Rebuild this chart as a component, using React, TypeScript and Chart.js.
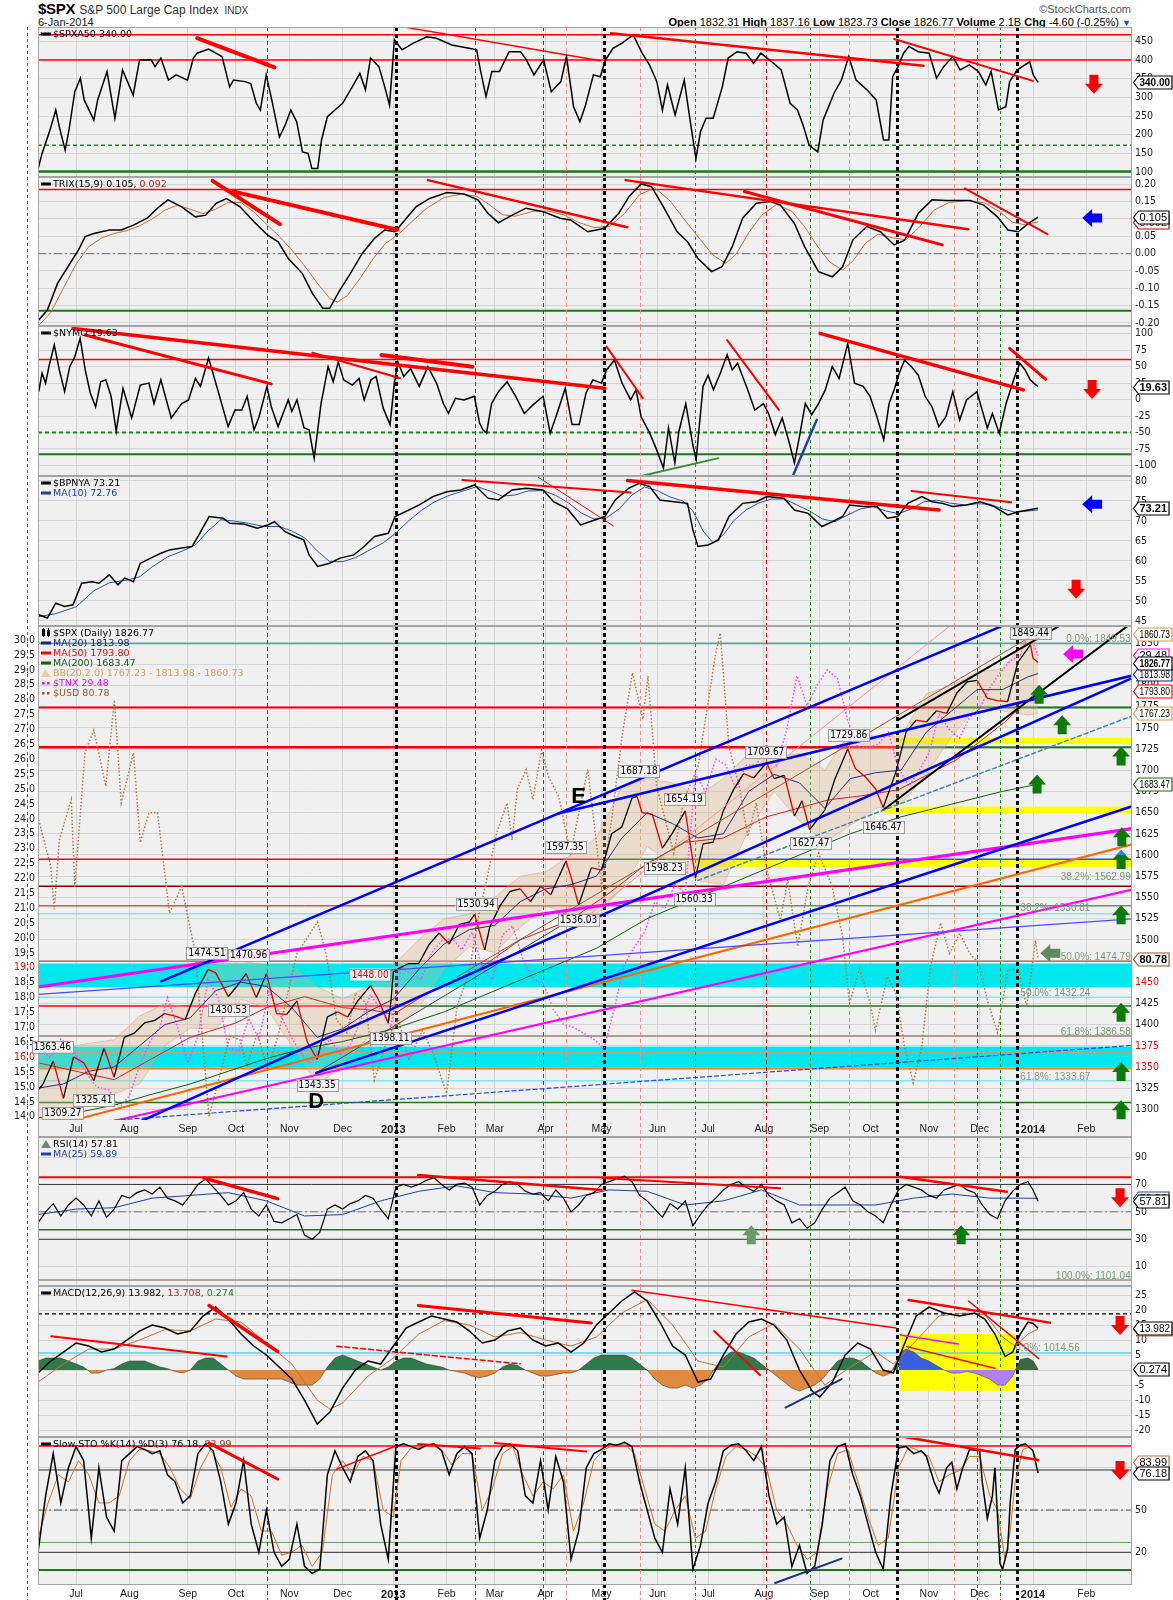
import React, { useEffect, useRef } from 'react';
import { Chart, registerables } from 'chart.js';

Chart.register(...registerables);

const TICK_FONT = '"Liberation Sans Narrow", "DejaVu Sans Condensed", "Liberation Sans", sans-serif';
const LEG_FONT = '"DejaVu Sans", Verdana, sans-serif';
const LAB_FONT = '"Liberation Sans", Arial, sans-serif';
const W = 1173;
const LEFT = 38;
const RIGHT_W = 41;
const X_MIN = -15;
const X_MAX = 416;

// trading-day index of month starts (0 = 2 Jul 2012)
const MONTH_IDX = [0, 21, 44, 63, 84, 105, 125, 146, 165, 185, 207, 229, 249, 271, 293, 313, 336, 356, 377, 398];
const MONTH_LABELS = ['Jul', 'Aug', 'Sep', 'Oct', 'Nov', 'Dec', '2013', 'Feb', 'Mar', 'Apr', 'May', 'Jun', 'Jul', 'Aug', 'Sep', 'Oct', 'Nov', 'Dec', '2014', 'Feb'];

// event lines (trading-day index, kind)
const VLINE_IDX = [-19.3, 75.3, 126, 157.2, 184, 193, 208, 222, 244, 272, 289, 304.6, 323.5, 346, 355, 364, 370.8];
const VLINE_KIND = ['g', 'r', 'k', 'r', 'r', 'p', 'k', 'p', 'g', 'r', 'g', 'p', 'k', 'p', 'r', 'g', 'k'];

// ---------- $SPXA50 ----------
const A50_TICKS = [100, 150, 200, 250, 300, 350, 400, 450];
const A50_LEVELS = [467, 400, 172, 102];
const A50 = [[-14.9,110],[-13.4,150],[-10.3,212],[-8,266],[-6.6,221],[-4.3,159],[-2.8,212],[-0.5,315],[1.7,351],[3.2,293],[7,239],[8.5,293],[12.2,369],[15.3,244],[18.3,373],[22.5,306],[25,400],[29.6,400],[31.1,382],[33.4,405],[36.4,346],[39.4,360],[43.9,346],[46.2,405],[47.7,418],[52.2,429],[57.5,409],[60.5,328],[62,346],[66.6,342],[68.8,337],[71,284],[72.6,266],[74.9,360],[77.1,293],[80.1,194],[82.4,226],[84.6,266],[86.9,235],[89.2,154],[91.4,150],[92.9,110],[95.2,110],[96.7,186],[99,248],[102,266],[105,284],[108.8,328],[111.8,364],[114,320],[116,405],[119.3,382],[121.6,328],[123.5,279],[125.4,454],[128.4,427],[132.9,445],[138.2,462],[142,458],[148,440],[154.8,431],[157.8,427],[159.3,373],[161.5,302],[163.8,369],[166.8,369],[170.6,422],[175.1,422],[177.4,400],[180.4,360],[184.2,400],[187.2,315],[191,342],[193.2,409],[196,275],[198.5,235],[200.7,279],[203.8,360],[206.5,355],[208.6,400],[211.5,431],[215.1,445],[219.5,467],[223,418],[225.9,387],[228.8,342],[231,266],[233,333],[236,253],[239.6,346],[241.7,248],[244.2,136],[246,208],[248.2,244],[251,244],[254.6,328],[256.9,405],[260.4,422],[264,418],[266.9,391],[269.8,418],[274.1,395],[277.8,373],[281.3,284],[284.2,266],[286.4,226],[288.8,172],[292.2,154],[294.3,239],[298.6,311],[301.5,346],[304.4,409],[307.3,346],[311.6,320],[315.2,293],[318.1,186],[320.2,186],[321.7,355],[323.8,382],[326,418],[328.1,436],[331.8,422],[336.1,418],[339,351],[341.8,382],[345.4,409],[348.3,373],[351.9,387],[355.5,369],[358.4,333],[360.5,369],[363.4,266],[366.3,275],[367.8,342],[370.7,373],[375.7,395],[377.1,360],[379,340]];
const A50_TRENDS = [[47.7,458,78.2,380],[128.4,489,206.5,398],[210.8,471.6,333.9,384.7],[322.3,456,377,344]];

// ---------- TRIX ----------
const TRIX_TICKS = [-0.2, -0.15, -0.1, -0.05, 0, 0.05, 0.1, 0.15, 0.2];
const TRIX_LEVELS = [0.185, 0, -0.165];
const TRIX = [[-14.7,-0.192],[-11.3,-0.163],[-7.3,-0.086],[-3.2,-0.038],[0.9,0.010],[3.6,0.049],[7,0.058],[13.1,0.068],[17.8,0.068],[22.6,0.082],[28,0.102],[32.1,0.131],[36.2,0.155],[41.6,0.135],[47,0.106],[51.1,0.111],[55.2,0.145],[59.2,0.159],[64.6,0.135],[70.1,0.092],[75.5,0.053],[79.6,0.034],[83.6,-0.014],[89.1,-0.057],[93.1,-0.115],[97.2,-0.158],[99.9,-0.158],[104,-0.105],[108.1,-0.057],[112.8,0.001],[117.6,0.044],[121.6,0.068],[125.7,0.063],[128.4,0.087],[133.9,0.135],[139.3,0.159],[146.1,0.176],[152.8,0.172],[158.3,0.155],[162.3,0.116],[166.4,0.089],[171.8,0.111],[177.3,0.131],[184,0.121],[190.7,0.102],[194.8,0.097],[201.6,0.063],[208.3,0.073],[213.8,0.116],[217.8,0.164],[222.6,0.201],[226.7,0.193],[231.4,0.135],[236.8,0.063],[240.9,0.034],[245,-0.014],[250.4,-0.052],[254.5,-0.038],[258.5,0.020],[262.6,0.102],[268,0.145],[273.5,0.150],[277.5,0.140],[283,0.087],[287,0.020],[292.5,-0.052],[297.9,-0.067],[302,-0.038],[306,0.039],[311.5,0.078],[316.9,0.063],[322.3,0.025],[326.4,0.039],[331.8,0.116],[337.2,0.155],[342.7,0.153],[352.2,0.153],[357.6,0.140],[363,0.106],[367.1,0.068],[371.2,0.063],[375.2,0.087],[379,0.105]];
const TRIX_SIG = [[-15,-0.21],[-10,-0.17],[-5,-0.1],[0,-0.03],[5,0.02],[10,0.045],[15,0.058],[20,0.066],[25,0.08],[30,0.1],[35,0.125],[40,0.14],[45,0.128],[50,0.115],[55,0.128],[60,0.148],[65,0.147],[70,0.12],[75,0.085],[80,0.05],[85,0.01],[90,-0.035],[95,-0.085],[100,-0.13],[103,-0.14],[107,-0.12],[112,-0.07],[117,-0.015],[122,0.03],[127,0.055],[132,0.09],[138,0.13],[145,0.162],[152,0.172],[158,0.165],[163,0.14],[168,0.112],[173,0.108],[180,0.122],[186,0.123],[192,0.112],[198,0.09],[204,0.075],[210,0.078],[216,0.115],[222,0.17],[228,0.19],[234,0.152],[240,0.095],[246,0.04],[251,-0.005],[256,-0.028],[260,-0.002],[265,0.06],[270,0.11],[276,0.142],[282,0.122],[287,0.078],[292,0.022],[297,-0.025],[302,-0.048],[306,-0.022],[311,0.03],[316,0.056],[322,0.045],[327,0.04],[332,0.075],[338,0.125],[344,0.148],[352,0.153],[358,0.146],[364,0.12],[369,0.09],[374,0.083],[379,0.092]];
const TRIX_TRENDS = [[53.8,0.210,80.3,0.085],[62,0.179,127,0.068],[138.6,0.212,217.2,0.076],[216.5,0.212,351.5,0.070],[263.3,0.179,341.3,0.025],[350.1,0.188,382.7,0.056]];

// ---------- $NYMO ----------
const NYMO_TICKS = [-100, -75, -50, -25, 0, 25, 50, 75, 100];
const NYMO_LEVELS = [61, -50, -83];
const NYMO = [[-14.7,12],[-13.4,40],[-12,25],[-10.7,50],[-8.6,83],[-6.6,45],[-4.5,12],[-2.5,50],[-0.5,65],[1.6,93],[3.6,45],[5.6,10],[7.7,-11],[9.7,27],[11.7,30],[13.8,5],[15.8,-48],[18.5,17],[21.9,-28],[25.3,22],[28.7,25],[30.7,-6],[33.4,30],[37.5,-28],[41.6,-6],[44.3,-0.5],[47,32],[49,20],[52.2,63],[55.8,15],[59.9,-41],[62.6,-16],[65.3,-16],[67.4,5],[70.1,-46],[72.1,-26],[75.2,20],[76.9,-11],[79.6,-41],[83.6,-0.5],[85,-18],[87,-0.5],[89.8,-43],[91.8,-46],[93.8,-89],[96.5,-6],[99.3,50],[101.3,27],[103.3,57],[105.4,30],[108.8,22],[111.5,32],[113.5,-0.5],[116.2,30],[118.2,35],[121,-13],[123.7,-38],[125.4,25],[126.8,57],[129.1,35],[131.8,47],[135.2,20],[138.6,50],[142,25],[144.7,-6],[146.7,-21],[149.5,2],[152.8,-0.5],[156.9,5],[159,-36],[160.3,-46],[161.7,-51],[163.7,-6],[166.4,12],[169.8,27],[173.2,5],[176.6,-21],[180,-8],[184,5],[186.8,-51],[189.5,-21],[192.7,17],[195.4,-38],[198.2,-38],[200.9,10],[203.6,30],[207,25],[209,45],[212.1,60],[215.1,25],[218.5,-0.5],[220.6,15],[222.6,-26],[226,-51],[228.7,-76],[231.4,-104],[233.4,-43],[235.9,-96],[237.5,-48],[240.2,-6],[243,-69],[244.3,-91],[247,20],[249,37],[251.1,15],[253.8,40],[256.5,68],[258.5,45],[260.6,55],[264.6,15],[267.4,-16],[270.8,-6],[272.8,-21],[275.5,-53],[278.2,-28],[281,-66],[283,-96],[285,-56],[287.3,-6],[289.8,-23],[292.5,-6],[295.2,15],[297.9,50],[300.6,32],[304,85],[306.7,25],[310.1,20],[312.8,5],[315.5,-26],[318.2,-61],[320.3,-6],[322.3,15],[324.3,40],[326.4,60],[329.1,50],[331.8,37],[334.5,5],[337.2,-11],[339.9,-41],[342.7,-26],[345.4,12],[348.1,-31],[350.8,-0.5],[354.9,12],[359,-43],[361,-21],[363.7,-51],[366.4,-6],[369.8,35],[371.8,55],[373.9,45],[375.9,30],[377.3,25],[379,19.63]];
const NYMO_TRENDS = [[-1.2,108,208.3,17.2],[3.6,98,76.9,23.8],[93.1,71.2,127.7,32.3],[120.3,67.7,156.2,50],[209,80.3,223.3,2],[256.5,90.4,276.9,-15.6],[293.1,100.5,373.2,14.7],[367.8,77.8,382,30.8]];
const NYMO_GREEN_TREND = [221.9,-116.6,253.1,-88.9];
const NYMO_BLUE_TREND = [282.3,-116.6,291.8,-30.8];

// ---------- $BPNYA ----------
const BP_TICKS = [45, 50, 55, 60, 65, 70, 75, 80];
const BPNYA = [[-14.7,46.5],[-11.3,45.7],[-8,49.4],[-4.5,48.6],[-1.2,49],[2.2,54.4],[6.3,54.8],[9,54.4],[13.1,56.5],[16.5,54],[19.2,55.7],[22.6,54.8],[25.3,59.4],[29.4,60.7],[33.4,61.9],[36.8,62.75],[41.6,63.2],[45.7,63.6],[48.4,66.5],[52.4,71.1],[57.9,70.7],[60.6,69.4],[66,69.25],[71.4,68.2],[75.5,69],[78.2,69.8],[82.3,67.3],[86.4,66.1],[89.7,65.25],[91.8,61.5],[95.2,58.6],[99.9,59.4],[104,60.7],[109.4,61.5],[113.5,63.6],[117.6,66.1],[123,66.9],[125.7,71.1],[131.1,72.75],[135.2,74],[140.6,76.1],[146.1,77.3],[151.5,77.75],[157,79],[162.3,75.7],[166.4,75.25],[171.8,77.75],[177.3,78.2],[184,77.75],[188.1,74.8],[193.6,73],[198.8,69],[204.3,70.25],[208.3,71.1],[212.4,75.25],[217.8,78.2],[221.9,79.4],[226,78.6],[230,75.25],[235.5,74.8],[240.9,74.4],[243,67.75],[245,63.6],[249,64],[253.1,65.25],[257.2,71.1],[262.6,74.4],[268,74.8],[272.1,76.1],[278.9,75.7],[283,72.75],[288.4,71.9],[293.8,68.6],[297.9,69.8],[302,71.1],[304.7,74],[310.1,73.6],[315.5,73.6],[319.6,70.7],[323.7,71.1],[327.7,74.4],[333.2,76.1],[337.2,74.8],[341.3,74.4],[345.4,73.6],[350.8,74],[356.2,74.8],[361.7,73.6],[367.1,71.5],[371.2,72.3],[375.2,72.75],[379,73.21]];
const BPNYA_MA = [[-15,46],[-8,46.8],[0,48.5],[7,52.5],[13,54.5],[20,55.2],[25,56],[30,58.5],[36,61],[42,62.5],[47,64],[52,67.5],[57,70.3],[62,70],[68,69.4],[74,68.6],[80,68.6],[85,67.5],[90,65.8],[95,62.5],[100,59.8],[105,59.8],[110,60.8],[115,62.5],[121,64.5],[126,67],[131,70],[136,72.6],[141,74.7],[147,76.4],[153,77.6],[158,78.6],[163,77.5],[168,76.2],[173,76.5],[178,77.5],[184,77.6],[189,76.4],[194,74.5],[199,72],[204,70.5],[209,70.8],[214,73],[219,76.5],[224,78.5],[229,77.6],[234,76],[239,75],[243,72.5],[247,67.5],[251,64.5],[255,66.5],[259,70],[264,72.8],[269,74.5],[274,75.5],[279,75.5],[284,74],[289,72.5],[294,70.5],[299,69.8],[304,71.5],[309,73],[314,73.6],[319,72.5],[324,71.8],[329,73],[334,74.8],[339,75.2],[344,74.5],[350,74],[355,74.3],[360,74.2],[365,73],[370,72.2],[375,72.5],[379,72.76]];
const BP_TRENDS = [[152.2,80.25,218.5,77.1],[179.3,82.1,211.7,68.75],[217.2,80.1,340,72.75],[329.1,77.5,368.4,74.7]];

// ---------- $SPX main ----------
const SPX_TICKS = [1300,1325,1350,1375,1400,1425,1450,1475,1500,1525,1550,1575,1600,1625,1650,1675,1700,1725,1750,1775,1800,1825,1850];
const TNX_TICKS = [14,14.5,15,15.5,16,16.5,17,17.5,18,18.5,19,19.5,20,20.5,21,21.5,22,22.5,23,23.5,24,24.5,25,25.5,26,26.5,27,27.5,28,28.5,29,29.5,30];
const SPX_RED_TICKS = [1450, 1375, 1350];
const TNX_RED_TICKS = [19, 16];
const SPX = [[-17,1315],[-13,1330],[-9,1357],[-5,1313],[-1,1362],[3,1355],[7,1334],[11,1372],[15,1338],[19,1385],[23,1390],[27,1402],[31,1405],[35,1413],[39,1410],[43,1406],[47,1437],[52,1465],[55,1461],[60,1433],[63,1444],[67,1460],[71,1432],[75,1460],[79,1413],[83,1412],[87,1428],[91,1380],[95,1359],[99,1409],[103,1415],[107,1409],[111,1428],[116,1446],[119,1430],[123,1402],[124,1426],[125,1462],[127,1466],[131,1472],[135,1472],[139,1494],[143,1508],[147,1495],[151,1518],[155,1521],[157,1530],[161,1488],[163,1515],[167,1540],[171,1557],[175,1560],[179,1545],[183,1563],[187,1553],[193,1593],[195,1574],[198,1541],[203,1585],[207,1582],[211,1625],[215,1633],[219,1667],[221,1669],[223,1650],[227,1648],[231,1608],[235,1626],[240,1652],[244,1573],[247,1613],[251,1615],[255,1652],[259,1677],[263,1696],[267,1691],[272,1709],[275,1690],[279,1694],[283,1646],[286,1664],[289,1630],[295,1653],[299,1690],[304,1725],[307,1702],[311,1692],[315,1678],[318,1656],[323,1698],[327,1745],[331,1759],[335,1757],[339,1770],[343,1767],[347,1791],[351,1804],[355,1806],[359,1785],[363,1782],[367,1781],[371,1827],[376,1848],[377,1832],[379,1827]];
const MA_IDX = [-15,-5,5,15,25,35,45,55,65,75,85,95,105,115,125,135,145,155,165,175,185,195,205,215,225,235,245,255,265,275,285,295,305,315,325,335,345,355,365,375,379];
const MA20 = [1325,1330,1345,1350,1375,1400,1408,1440,1450,1445,1420,1385,1395,1415,1430,1465,1495,1512,1517,1545,1560,1565,1575,1620,1650,1637,1620,1625,1675,1695,1685,1655,1690,1697,1700,1745,1770,1795,1795,1810,1814];
const BB_UP = [1370,1372,1378,1382,1410,1425,1420,1485,1475,1470,1470,1445,1430,1445,1470,1500,1525,1530,1550,1575,1580,1600,1620,1680,1690,1685,1670,1690,1720,1715,1720,1700,1745,1740,1740,1790,1800,1815,1820,1855,1861];
const BB_LO = [1280,1290,1312,1318,1330,1375,1396,1395,1430,1420,1375,1330,1350,1385,1395,1420,1465,1492,1485,1515,1540,1530,1530,1560,1610,1590,1570,1565,1630,1675,1640,1615,1635,1655,1660,1695,1740,1775,1770,1765,1767];
const MA50 = [[-15,1355],[0,1345],[15,1335],[30,1360],[45,1385],[63,1402],[75,1420],[90,1433],[105,1420],[117,1417],[125,1412],[140,1440],[158,1464],[175,1500],[194.6,1523],[210,1555],[225,1590],[240,1615],[255,1620],[272,1645],[296.5,1665],[310,1670],[324,1677],[346.7,1712],[365.6,1756],[379,1793.8]];
const MA200 = [[-15,1290],[0,1296],[15,1305],[30,1318],[45,1330],[60,1345],[75,1360],[90,1372],[105,1380],[125,1395],[145,1415],[165,1440],[185,1465],[205,1490],[225,1525],[245,1550],[265,1575],[285,1600],[305,1625],[325,1645],[345,1660],[365,1675],[379,1683.47]];
const TNX = [[-15,16.3],[-10,16.0],[-6,16.6],[-2,16.4],[3,15.6],[8,15.0],[13,14.9],[17,14.3],[21,14.7],[25,15.7],[29,16.5],[33,17.0],[36,18.0],[40,17.0],[44,15.8],[48,16.7],[52,18.6],[56,18.0],[60,16.3],[64,16.2],[68,17.3],[72,16.6],[76,18.2],[80,17.5],[84,16.8],[88,16.2],[92,15.8],[96,16.2],[100,16.6],[104,16.1],[108,16.4],[112,17.2],[116,18.1],[120,17.6],[124,17.0],[128,19.0],[132,18.8],[136,18.6],[140,19.5],[144,19.9],[148,20.0],[152,19.6],[156,20.2],[160,19.0],[164,18.6],[168,20.1],[172,20.4],[176,19.3],[180,18.6],[184,18.5],[188,17.6],[192,17.1],[196,17.0],[200,16.8],[204,16.6],[208,16.3],[212,17.6],[216,19.1],[220,19.7],[224,20.2],[228,21.2],[232,21.0],[236,21.8],[240,21.5],[244,25.5],[248,24.9],[252,26.0],[256,25.8],[260,25.0],[264,25.8],[268,25.8],[272,26.5],[276,25.8],[280,27.0],[284,28.8],[288,27.8],[292,28.5],[296,29.0],[300,28.7],[304,27.3],[308,26.4],[312,26.4],[316,26.5],[320,26.9],[324,25.7],[328,25.1],[332,25.6],[336,26.2],[340,27.5],[344,27.0],[348,26.7],[352,27.4],[356,27.7],[360,28.4],[364,28.9],[368,29.3],[372,29.5],[375,30.2],[377,29.9],[379,29.48]];
const USD = [[-14.7,82.36],[-10,81.83],[-8.6,81.34],[-6.6,82.13],[-1.9,82.59],[-0.5,81.6],[3.5,83.12],[7,83.38],[11.7,82.74],[15.1,83.72],[17.8,82.55],[22.6,83.12],[25.3,82.1],[28.7,82.44],[32.1,82.44],[36.8,81.3],[41.6,81.6],[47,80.84],[49.7,79.9],[52.4,78.99],[56.5,79.44],[60.6,79.9],[64.6,79.86],[67.3,79.56],[71.4,79.94],[75.5,79.52],[79.5,79.9],[87,80.84],[90.4,80.99],[95.1,81.2],[98.5,80.84],[102.6,80.09],[106.7,79.94],[110.1,80.39],[114.1,80.28],[117.5,79.4],[123,79.9],[127,80.09],[131.1,79.63],[136.5,79.97],[140.6,79.71],[146,79.25],[150.1,80.24],[154.8,80.62],[158.3,81.22],[162.3,81.75],[165.7,82.21],[169.8,82.55],[171.8,82.13],[173.8,82.7],[177.3,82.93],[180,82.59],[183.4,83.15],[186.1,82.85],[190.2,82.62],[194.8,81.98],[201.6,82.93],[207,81.6],[211,82.36],[215.1,83.31],[219.2,84.03],[223.3,83.5],[225.3,83.99],[228.7,82.74],[232.1,82.36],[235.5,81.98],[239.5,82.59],[245,82.96],[249,83.69],[251.8,84.22],[253.8,84.48],[257.2,83.19],[261.3,82.74],[264.6,82.17],[268,82.55],[272.1,81.79],[277.5,81.22],[280.3,81.68],[284.3,80.92],[288.4,81.6],[292.5,81.98],[297.9,81.6],[302,81.03],[304.7,80.28],[308.7,80.66],[312.8,80.28],[314.9,79.97],[319.6,80.58],[323,80.39],[326.4,79.78],[329.8,79.37],[333.2,79.78],[336.6,80.69],[340.6,81.19],[344.1,80.84],[348.1,81.07],[352.2,80.84],[355.6,80.73],[359,80.31],[363,79.94],[367.1,80.66],[371.2,80.66],[374.5,80.24],[378,80.99],[379,80.78]];
const MAIN_TRENDS = [[33.5,1451,432,1955],[190,1649,432,1823],[9,1264,432,1830],[94.6,1343,432,1673],[-18,1435,432,1528],[-18,1280,432,1379],[245,1570,432,1782],[-18,1443,432,1638],[-18,1264,432,1570],[-18,1274,432,1625],[318,1653,432,1910],[323.7,1759,432,1948],[94.6,1343,194.6,1523],[150,1456,400,1900],[200,1524,420,2052]];
const MAIN_LEVELS = [1849.5, 1774, 1727, 1595, 1563, 1540, 1530.8, 1474.8, 1432.2, 1422, 1386.6, 1367, 1348, 1333.7, 1308];
const CYAN_BANDS = [[1444, 1472], [1349, 1374]];
const YELLOW_BANDS = [[1731, 1738, 324], [1649, 1657, 318], [1586, 1594, 244]];
const PRICE_LABELS = [[-5.2,1296,'1309.27'],[-9.3,1374,'1363.46'],[7,1311,'1325.41'],[51.6,1484,'1474.51'],[68,1482,'1470.96'],[60,1417,'1430.53'],[115.8,1459,'1448.00'],[95,1329,'1343.35'],[124,1384,'1398.11'],[157.6,1542,'1530.94'],[192.7,1609,'1597.35'],[198,1523,'1536.03'],[221.8,1699,'1687.18'],[239.6,1666,'1654.19'],[231.7,1585,'1598.23'],[243.5,1548,'1560.33'],[271.7,1721,'1709.67'],[289.5,1614.5,'1627.47'],[304.4,1741.5,'1729.86'],[318,1633,'1646.47'],[376,1862,'1849.44']];
const FIB_RIGHT = [['0.0%: 1849.53', 1855], ['38.2%: 1562.99', 1574], ['50.0%: 1474.79', 1480], ['61.8%: 1386.58', 1391]];
const FIB_LEFT = [['38.2%: 1530.81', 1537.6], ['50.0%: 1432.24', 1438], ['61.8%: 1333.67', 1338.5]];
const GREEN_UP = [[379.4,1789],[388.5,1753],[411.7,1716],[378.6,1683],[412,1621],[411.7,1594],[411.7,1529],[411.7,1414],[411.7,1344],[411.7,1299]];

// ---------- RSI ----------
const RSI_TICKS = [10, 30, 50, 70, 90];
const RSI_LEVELS = [75.3, 70, 50, 37, 30, 0.3];
const RSI = [[-15,42],[-12,50],[-9,56],[-6,47],[-3,55],[0,60],[3,55],[6,47],[9,58],[12,46],[15,52],[18,62],[21,60],[24,64],[27,66],[30,63],[33,68],[36,60],[39,58],[42,55],[45,62],[48,70],[51,74],[54,68],[57,62],[60,55],[63,58],[66,64],[69,52],[72,47],[75,55],[78,43],[81,42],[84,45],[87,48],[90,33],[93,30],[96,35],[99,52],[102,55],[105,52],[108,56],[111,58],[114,62],[117,60],[120,52],[123,45],[126,68],[129,70],[132,68],[135,70],[138,73],[141,75],[144,70],[147,66],[150,70],[153,71],[156,68],[159,55],[162,62],[165,65],[168,70],[171,72],[174,70],[177,65],[180,63],[183,64],[186,58],[189,66],[192,60],[195,50],[198,55],[201,62],[204,64],[207,70],[210,72],[213,74],[216,76],[219,72],[222,62],[225,58],[228,52],[231,46],[234,56],[237,52],[240,58],[243,40],[246,48],[249,55],[252,60],[255,66],[258,70],[261,72],[264,68],[267,65],[270,70],[273,62],[276,58],[279,55],[282,42],[285,45],[288,38],[291,42],[294,52],[297,60],[300,64],[303,68],[306,58],[309,55],[312,50],[315,47],[318,42],[321,55],[324,66],[327,70],[330,68],[333,66],[336,62],[339,60],[342,66],[345,68],[348,70],[351,66],[354,64],[357,55],[360,48],[363,45],[366,58],[369,65],[372,70],[375,72],[377,66],[379,57.81]];
const RSI_MA = [[-15,48],[0,52],[15,53],[30,60],[45,62],[60,64],[75,58],[90,47],[105,48],[120,58],[135,65],[150,69],[165,64],[180,63],[195,60],[210,66],[225,65],[240,55],[255,58],[270,66],[285,55],[300,55],[315,55],[330,60],[345,63],[360,60],[370,60],[379,59.89]];
const RSI_TRENDS = [[50.4,74.6,79.4,59.6],[134.8,76.8,207,65.9],[207.3,74.6,277.4,67.3],[324.7,75.6,366.7,64.6]];

// ---------- MACD ----------
const MACD_TICKS = [-20, -15, -10, -5, 0, 5, 10, 15, 20, 25];
const MACD_LEVELS = [18.7, 5.7];
const MACD = [[-15,-1],[-10,3],[-5,6],[0,9],[5,8],[10,6],[15,7],[20,10],[25,13],[30,15],[35,14],[40,12],[45,13],[50,18],[55,21],[60,17],[65,12],[70,8],[75,5],[80,1],[85,-3],[90,-10],[95,-18],[100,-14],[105,-6],[110,0],[115,3],[120,2],[125,8],[130,14],[135,16],[140,18],[145,17],[150,16],[155,13],[160,9],[165,10],[170,13],[175,14],[180,10],[185,8],[190,9],[195,6],[200,9],[205,15],[210,19],[215,23],[220,26],[225,23],[230,16],[235,8],[240,5],[245,-4],[250,-3],[255,5],[260,12],[265,16],[270,17],[275,15],[280,10],[285,0],[290,-7],[293,-9],[298,-4],[303,5],[308,9],[313,7],[318,0],[322,-1],[326,8],[331,18],[336,21],[342,19],[348,18],[354,19],[358,17],[362,12],[366,4.5],[369,6],[372,12],[375,16],[377,15.5],[379,13.98]];
const MACD_SIG = [[-15,-4],[-5,2],[5,7],[15,7],[25,10],[35,13.5],[45,13],[55,17],[65,16],[75,9],[85,2],[95,-10],[100,-13],[105,-11],[115,-2],[125,4],[135,12],[145,16.5],[155,15],[165,11],[175,12.5],[185,10],[195,8],[205,11],[215,19],[225,23.5],[235,15],[245,3],[255,1],[265,11],[275,15.5],[285,7],[295,-5],[305,1],[315,6],[322,2],[330,9],[340,18],[350,19],[358,18.5],[365,11],[370,8],[375,12],[379,13.71]];
const HIST_A = [[-15,3],[-12,4],[-9,4],[-6,4],[-3,3],[0,2],[3,1],[6,-1],[9,-1],[12,0],[15,0.5],[18,2],[21,3],[24,3],[27,3],[30,2],[33,1],[36,0.5],[39,-0.5],[42,-1],[45,0],[48,3],[51,4],[54,4],[57,2],[60,0],[63,-2],[66,-3],[69,-3],[72,-3],[75,-3],[78,-3],[81,-3],[84,-4],[87,-5],[90,-5],[93,-5],[96,-3],[99,1],[102,4],[105,5],[108,4],[111,3],[114,2],[117,1],[120,0],[123,1],[126,3],[129,4],[132,4],[135,3],[138,2],[141,1.5],[144,1],[147,0],[150,-0.5],[153,-1],[156,-2],[159,-2.5],[162,-2],[165,-1],[168,1],[171,2],[174,1.5],[177,0],[180,-1],[183,-2],[186,-2],[189,-1.5],[192,-1],[195,-1],[198,0],[201,2],[204,4],[207,5],[210,5],[213,5],[216,5],[219,4],[222,2],[225,0],[228,-3],[231,-5],[234,-6],[237,-6],[240,-5],[243,-6],[246,-5],[249,-3],[252,1],[255,4],[258,6],[261,6],[264,5],[267,4],[270,2],[273,0],[276,-2],[279,-4],[282,-6],[285,-7],[288,-6],[291,-5],[294,-3],[297,0],[300,3],[303,4],[306,4],[309,3],[312,1],[315,-1],[318,-2],[321,-1],[324,4]];
const HIST_B = [[324,4],[325,6],[327,7],[330,6],[333,4],[336,3],[339,1.5],[342,0],[345,-1],[348,-1],[351,-0.5],[354,-1],[357,-2],[360,-3],[363,-5],[366,-5],[369,-2],[370,0]];
const HIST_C = [[370,0],[372,3.5],[375,4],[377,3],[379,0.27]];
const MACD_BOX = [324.7, 370, -6.9, 12];
const MACD_TRENDS = [[-9.8,11.3,59.3,4.5],[52.4,21.5,79.4,6.2],[102.7,7.9,175,2.1],[134.8,21.5,203,15.7],[219,26.6,323,14],[328,23.3,383.7,15.8],[251.4,13,269.5,-1.7],[351.6,23,379.2,3.9],[327.3,7.8,362,0.6]];
const MACD_BLUE_TREND = [279.5,-12.5,301.6,-3];
const MACD_PINK_TREND = [324.7,11.7,347.6,8.7];

// ---------- Slow STO ----------
const STO_TICKS = [20, 50, 80];
const STO_LEVELS = [95.4, 78.4, 50, 27, 20, 7.4];
const STO_K = [[-15,20],[-12,60],[-9,90],[-6,55],[-3,80],[0,95],[3,85],[6,30],[9,80],[12,45],[15,35],[18,85],[21,90],[24,95],[27,93],[30,90],[33,92],[36,75],[39,70],[42,55],[45,60],[48,90],[51,97],[54,92],[57,70],[60,40],[63,55],[66,85],[69,40],[72,20],[75,50],[78,20],[81,10],[84,15],[87,40],[90,10],[93,5],[96,8],[99,75],[102,92],[105,80],[108,70],[111,88],[114,92],[117,85],[120,40],[123,15],[126,95],[129,97],[132,95],[135,93],[138,96],[141,97],[144,92],[147,75],[150,90],[153,95],[156,90],[159,30],[162,50],[165,85],[168,95],[171,97],[174,92],[177,60],[180,55],[183,85],[186,50],[189,88],[192,70],[195,15],[198,35],[201,80],[204,90],[207,93],[210,97],[213,96],[216,98],[219,95],[222,70],[225,50],[228,30],[231,20],[234,65],[237,40],[240,80],[243,8],[246,25],[249,55],[252,70],[255,92],[258,96],[261,97],[264,92],[267,85],[270,95],[273,60],[276,40],[279,45],[282,10],[285,25],[288,5],[291,10],[294,40],[297,85],[300,95],[303,97],[306,75],[309,60],[312,40],[315,20],[318,8],[321,60],[324,94],[327,95],[330,90],[333,92],[335,88],[338,70],[340,62],[343,80],[345,84],[347,65],[349,78],[352,93],[356,92],[357,70],[359,44],[361,60],[362,80],[364,12],[365,8],[367,22],[368,55],[370,93],[372,96],[374,97],[377,92],[379,76.18]];
const STO_D = [[-15,30],[-11,55],[-7,75],[-3,70],[1,85],[5,75],[9,55],[13,55],[17,60],[21,85],[25,93],[29,92],[33,90],[37,80],[41,65],[45,58],[49,80],[53,93],[57,80],[61,52],[65,65],[69,60],[73,35],[77,35],[81,18],[85,20],[89,25],[93,10],[97,20],[101,75],[105,85],[109,75],[113,88],[117,85],[121,50],[125,45],[128,85],[132,94],[136,94],[140,96],[144,93],[148,82],[152,90],[156,90],[160,50],[164,65],[168,90],[172,95],[176,75],[180,60],[184,70],[188,65],[192,75],[196,35],[200,55],[204,85],[208,93],[212,96],[216,97],[220,90],[224,65],[228,40],[232,35],[236,50],[240,60],[244,30],[248,35],[252,65],[256,88],[260,95],[264,93],[268,88],[272,80],[276,50],[280,40],[284,25],[288,15],[292,20],[296,65],[300,90],[304,93],[308,70],[312,45],[316,25],[320,30],[324,80],[328,95],[332,92],[336,88],[340,70],[344,75],[348,78],[352,88],[356,88],[360,60],[363,50],[366,15],[368,35],[370,70],[373,93],[376,95],[379,83.99]];
const STO_TRENDS = [[52.4,97.5,79.4,72],[102.7,79,126,95.4],[134.8,96.8,159,93.7],[165,97.5,201,91.5],[326,102,379,85.5]];
const STO_BLUE_TREND = [275.4,-1.8,301.6,15.5];

// ---------- helpers ----------
const xy = (a: number[][]) => a.map(([x, y]) => ({ x, y }));
const zipXY = (xs: number[], ys: number[]) => xs.map((x, i) => ({ x, y: ys[i] }));

function lineDs(data: any[], color: string, width: number, extra: any = {}) {
  return { type: 'line', data, borderColor: color, borderWidth: width, pointRadius: 0, tension: 0, fill: false, yAxisID: 'y', ...extra };
}
function trend(s: number[], color: string, width: number, dash: number[] = [], axis = 'y') {
  return lineDs([{ x: s[0], y: s[1] }, { x: s[2], y: s[3] }], color, width, { borderDash: dash, yAxisID: axis, borderCapStyle: 'round' });
}

function xScale(h: number) {
  return {
    type: 'linear', min: X_MIN, max: X_MAX,
    afterBuildTicks: (s: any) => { s.ticks = MONTH_IDX.map((v) => ({ value: v })); },
    afterFit: (s: any) => { s.height = h; s.paddingLeft = 0; s.paddingRight = 0; },
    grid: { color: '#d2d2d2', drawTicks: false, lineWidth: 1 },
    border: { display: false },
    ticks: {
      display: h > 0, padding: 3, color: '#222', autoSkip: false, maxRotation: 0,
      font: (c: any) => {
        const i = MONTH_IDX.indexOf(c.tick ? c.tick.value : -999);
        const yr = i >= 0 && MONTH_LABELS[i].length === 4;
        return { family: LAB_FONT, size: yr ? 11 : 10.5, weight: yr ? 'bold' : 'normal' };
      },
      callback: (v: any) => { const i = MONTH_IDX.indexOf(v); return i >= 0 ? MONTH_LABELS[i] : ''; },
    },
  };
}

function yScale(min: number, max: number, ticks: number[], fmt: (v: number) => string, color: any = '#222', position = 'right', grid = true) {
  return {
    type: 'linear', position, min, max,
    afterBuildTicks: (s: any) => { s.ticks = ticks.map((v) => ({ value: v })); },
    afterFit: (s: any) => { s.width = position === 'right' ? RIGHT_W : LEFT; s.paddingTop = 0; s.paddingBottom = 0; },
    grid: { display: grid, color: '#d6d6d6', drawTicks: false, lineWidth: 1 },
    border: { display: false },
    ticks: { padding: 3, color, autoSkip: false, font: { family: TICK_FONT, size: 10.5 }, callback: (v: any) => fmt(v) },
  };
}

const VSTYLE: Record<string, any> = {
  g: { c: '#1a8a1a', w: 1, d: [3, 3] },
  r: { c: '#ff0000', w: 1, d: [4, 3] },
  p: { c: '#ff8a8a', w: 1, d: [4, 3] },
  k: { c: '#000000', w: 3, d: [4, 3] },
};

function drawArrow(ctx: CanvasRenderingContext2D, x: number, y: number, dir: string, color: string, top?: string) {
  ctx.fillStyle = color;
  ctx.beginPath();
  if (dir === 'down') {
    ctx.rect(x - 4.5, y - 9, 9, 9);
    ctx.moveTo(x - 9, y); ctx.lineTo(x + 9, y); ctx.lineTo(x, y + 10); ctx.closePath();
  } else if (dir === 'up') {
    ctx.rect(x - 4.5, y, 9, 9);
    ctx.moveTo(x - 9, y); ctx.lineTo(x + 9, y); ctx.lineTo(x, y - 10); ctx.closePath();
  } else {
    ctx.rect(x, y - 4.5, 10, 9);
    ctx.moveTo(x, y - 9); ctx.lineTo(x, y + 9); ctx.lineTo(x - 10, y); ctx.closePath();
  }
  ctx.fill();
  if (top && dir === 'up') {
    ctx.fillStyle = top;
    ctx.beginPath(); ctx.moveTo(x - 5, y - 5); ctx.lineTo(x + 5, y - 5); ctx.lineTo(x, y - 10); ctx.closePath(); ctx.fill();
  }
}

function makePlugin(spec: any) {
  return {
    id: 'panel',
    beforeDraw(chart: any) {
      const { ctx, chartArea: a } = chart;
      ctx.save();
      ctx.fillStyle = '#ffffff';
      ctx.fillRect(0, 0, chart.width, chart.height);
      ctx.fillStyle = '#f0f0f0';
      const bottom = spec.bgFull ? chart.height : a.bottom;
      ctx.fillRect(a.left, a.top, a.right - a.left, bottom - a.top);
      ctx.restore();
    },
    beforeDatasetsDraw(chart: any) {
      const { ctx, chartArea: a, scales } = chart;
      const xs = scales.x;
      ctx.save();
      ctx.beginPath(); ctx.rect(a.left, a.top, a.right - a.left, a.bottom - a.top); ctx.clip();
      for (const b of spec.bands || []) {
        const ys = scales[b.axis || 'y'];
        const x1 = b.from !== undefined ? xs.getPixelForValue(b.from) : a.left;
        const x2 = b.to !== undefined ? xs.getPixelForValue(b.to) : a.right;
        const y1 = ys.getPixelForValue(b.v1);
        const y2 = ys.getPixelForValue(b.v2);
        ctx.fillStyle = b.c;
        ctx.fillRect(x1, Math.min(y1, y2), x2 - x1, Math.abs(y2 - y1));
      }
      for (const h of spec.hlines || []) {
        const ys = scales[h.axis || 'y'];
        const x1 = h.from !== undefined ? xs.getPixelForValue(h.from) : a.left;
        const x2 = h.to !== undefined ? xs.getPixelForValue(h.to) : a.right;
        const y = ys.getPixelForValue(h.v);
        ctx.strokeStyle = h.c; ctx.lineWidth = h.w; ctx.setLineDash(h.dash || []);
        ctx.beginPath(); ctx.moveTo(x1, y); ctx.lineTo(x2, y); ctx.stroke();
      }
      ctx.restore();
      ctx.save();
      VLINE_IDX.forEach((idx, i) => {
        const st = VSTYLE[VLINE_KIND[i]];
        const x = Math.round(xs.getPixelForValue(idx)) + (st.w % 2 ? 0.5 : 0);
        ctx.strokeStyle = st.c; ctx.lineWidth = st.w; ctx.setLineDash(st.d);
        ctx.beginPath(); ctx.moveTo(x, 0); ctx.lineTo(x, chart.height); ctx.stroke();
      });
      ctx.restore();
    },
    afterDatasetsDraw(chart: any) {
      const { ctx, chartArea: a, scales } = chart;
      const xs = scales.x;
      ctx.save();
      ctx.setLineDash([]);
      ctx.strokeStyle = '#a4a4a4'; ctx.lineWidth = 1;
      const fb = spec.bgFull ? chart.height : a.bottom;
      ctx.strokeRect(a.left + 0.5, a.top + 0.5, a.right - a.left - 1, fb - a.top - 1);
      ctx.textBaseline = 'middle';
      for (const t of spec.texts || []) {
        const ys = scales[t.axis || 'y'];
        const x = xs.getPixelForValue(t.x);
        const y = ys.getPixelForValue(t.y);
        ctx.font = t.font;
        const w = ctx.measureText(t.t).width;
        const lx = t.align === 'right' ? x - w : t.align === 'left' ? x : x - w / 2;
        if (t.box) {
          ctx.fillStyle = 'rgba(244,244,244,0.92)';
          ctx.fillRect(lx - 2, y - 6, w + 4, 12);
          ctx.strokeStyle = '#9c9c9c'; ctx.lineWidth = 1;
          ctx.strokeRect(Math.round(lx - 2) + 0.5, Math.round(y - 6) + 0.5, Math.round(w + 4), 12);
        }
        ctx.fillStyle = t.color;
        ctx.fillText(t.t, lx, y + 0.5);
      }
      for (const ar of spec.arrows || []) {
        const ys = scales[ar.axis || 'y'];
        drawArrow(ctx, xs.getPixelForValue(ar.x), ys.getPixelForValue(ar.y), ar.dir, ar.c, ar.top);
      }
      // legend
      (spec.legend || []).forEach((L: any, i: number) => {
        const y = a.top + 7 + i * 10;
        const ix = a.left + 3;
        if (L.icon === 'line') { ctx.fillStyle = L.c; ctx.fillRect(ix, y - 1.5, 10, 3); }
        else if (L.icon === 'dots') { ctx.fillStyle = L.c; ctx.fillRect(ix + 1, y - 1, 2.5, 2.5); ctx.fillRect(ix + 6, y - 1, 2.5, 2.5); }
        else if (L.icon === 'band') { ctx.fillStyle = L.c; ctx.beginPath(); ctx.moveTo(ix, y + 4); ctx.lineTo(ix + 4, y - 4); ctx.lineTo(ix + 10, y + 4); ctx.closePath(); ctx.fill(); }
        else if (L.icon === 'candle') { ctx.fillStyle = '#000'; ctx.fillRect(ix + 1, y - 4, 3, 7); ctx.fillRect(ix + 6, y - 3, 3, 6); ctx.fillRect(ix + 2, y - 5, 1, 9); ctx.fillRect(ix + 7, y - 5, 1, 9); }
        else if (L.icon === 'tri') { ctx.fillStyle = '#6a8a6a'; ctx.beginPath(); ctx.moveTo(ix, y + 4); ctx.lineTo(ix + 5, y - 4); ctx.lineTo(ix + 10, y + 4); ctx.closePath(); ctx.fill(); }
        let tx = a.left + 15;
        ctx.font = `9.5px ${LEG_FONT}`;
        for (const [txt, col] of L.parts) {
          ctx.fillStyle = col;
          ctx.fillText(txt, tx, y + 0.5);
          tx += ctx.measureText(txt).width;
        }
      });
      // value tags (text squeezed to fit the axis strip)
      for (const t of spec.tags || []) {
        const ys = scales[t.axis || 'y'];
        const y = Math.round(ys.getPixelForValue(t.v)) + 0.5;
        const x = a.right + 1.5;
        ctx.font = `${t.bold ? 'bold ' : ''}11px ${LAB_FONT}`;
        const raw = ctx.measureText(t.t).width;
        const maxW = chart.width - x - 9;
        const sx = Math.min(1, maxW / raw);
        const tw = raw * sx;
        ctx.beginPath();
        ctx.moveTo(x, y); ctx.lineTo(x + 5, y - 6.5); ctx.lineTo(x + 8 + tw, y - 6.5); ctx.lineTo(x + 8 + tw, y + 6.5); ctx.lineTo(x + 5, y + 6.5); ctx.closePath();
        ctx.fillStyle = '#ffffff'; ctx.fill();
        ctx.strokeStyle = t.border; ctx.lineWidth = 1.2; ctx.stroke();
        ctx.save();
        ctx.translate(x + 6, y + 0.5);
        ctx.scale(sx, 1);
        ctx.fillStyle = t.color || '#000';
        ctx.fillText(t.t, 0, 0);
        ctx.restore();
      }
      ctx.restore();
    },
  };
}

// ---------- panel specs ----------
function specA50() {
  const ws = [4, 1.5, 2.5, 2];
  return {
    h: 150, xAxisH: 0,
    scales: { x: xScale(0), y: yScale(87, 488, A50_TICKS, (v) => String(v)) },
    datasets: [
      ...A50_TRENDS.map((s, i) => trend(s, '#ff0000', ws[i])),
      lineDs(xy(A50), '#000000', 1.5),
    ],
    hlines: [
      { v: A50_LEVELS[0], c: '#ff0000', w: 1.5 }, { v: A50_LEVELS[1], c: '#ff0000', w: 1.5 },
      { v: A50_LEVELS[2], c: '#1a8a1a', w: 1.5, dash: [4, 3] }, { v: A50_LEVELS[3], c: '#1a7a1a', w: 2.5 },
    ],
    arrows: [{ x: 401, y: 336, dir: 'down', c: '#ff0000' }],
    tags: [{ v: 340, t: '340.00', border: '#000', bold: true }],
    legend: [{ icon: 'line', c: '#000', parts: [['$SPXA50 340.00', '#000']] }],
  };
}

function specTRIX() {
  const ws = [4, 4, 2.5, 2.5, 3, 2];
  return {
    h: 149, xAxisH: 0,
    scales: { x: xScale(0), y: yScale(-0.209, 0.221, TRIX_TICKS, (v) => v.toFixed(2)) },
    datasets: [
      ...TRIX_TRENDS.map((s, i) => trend(s, '#ff0000', ws[i], i === 1 ? [3, 2] : [])),
      lineDs(xy(TRIX), '#000000', 1.5),
      lineDs(xy(TRIX_SIG), '#c0703a', 1),
    ],
    hlines: [
      { v: TRIX_LEVELS[0], c: '#ff0000', w: 1.5 }, { v: TRIX_LEVELS[1], c: '#808080', w: 1.2, dash: [8, 3, 2, 3] },
      { v: TRIX_LEVELS[2], c: '#1a7a1a', w: 2 },
    ],
    arrows: [{ x: 400.3, y: 0.103, dir: 'left', c: '#0000ff' }],
    tags: [{ v: 0.092, t: '0.092', border: '#c00000', color: '#c00000' }, { v: 0.105, t: '0.105', border: '#000' }],
    legend: [{ icon: 'line', c: '#000', parts: [['TRIX(15,9) 0.105,', '#000'], [' 0.092', '#b03020']] }],
  };
}

function specNYMO() {
  const ws = [3.5, 3, 2, 4, 2, 2, 3.5, 3];
  return {
    h: 150, xAxisH: 0,
    scales: { x: xScale(0), y: yScale(-116, 111.7, NYMO_TICKS, (v) => String(v)) },
    datasets: [
      ...NYMO_TRENDS.map((s, i) => trend(s, '#ff0000', ws[i])),
      trend(NYMO_GREEN_TREND, '#3a8a3a', 2),
      trend(NYMO_BLUE_TREND, '#2040a0', 2.5),
      lineDs(xy(NYMO), '#000000', 1.5),
    ],
    hlines: [
      { v: NYMO_LEVELS[0], c: '#ff0000', w: 1.5 }, { v: NYMO_LEVELS[1], c: '#1a8a1a', w: 2, dash: [4, 3] },
      { v: NYMO_LEVELS[2], c: '#1a7a1a', w: 2 },
    ],
    arrows: [{ x: 400.3, y: 16, dir: 'down', c: '#ff0000' }],
    tags: [{ v: 19.63, t: '19.63', border: '#000', bold: true }],
    legend: [{ icon: 'line', c: '#000', parts: [['$NYMO 19.63', '#000']] }],
  };
}

function specBP() {
  const ws = [2, 1, 3.5, 2];
  return {
    h: 150, xAxisH: 0,
    scales: { x: xScale(0), y: yScale(43.7, 81.25, BP_TICKS, (v) => String(v)) },
    datasets: [
      ...BP_TRENDS.map((s, i) => trend(s, '#ff0000', ws[i])),
      lineDs(xy(BPNYA), '#000000', 1.5),
      lineDs(xy(BPNYA_MA), '#3050a0', 1),
    ],
    arrows: [{ x: 400.3, y: 74.2, dir: 'left', c: '#0000ff' }, { x: 394, y: 53, dir: 'down', c: '#ff0000' }],
    tags: [{ v: 73.21, t: '73.21', border: '#000', bold: true }],
    legend: [
      { icon: 'line', c: '#000', parts: [['$BPNYA 73.21', '#000']] },
      { icon: 'line', c: '#2040a0', parts: [['MA(10) 72.76', '#2040a0']] },
    ],
  };
}

function specMain() {
  const tstyle: [string, number, number[]][] = [
    ['#0000ff', 2.5, []], ['#0000ff', 2.5, []], ['#0000ff', 2.5, []], ['#0000ff', 2.5, []],
    ['#4a4aff', 1.2, []], ['#2a4ae0', 1.2, [4, 3]], ['#4a8aa0', 1.5, [4, 3]],
    ['#ff00ff', 3, []], ['#ff00ff', 2, []], ['#ff6600', 2, []],
    ['#000000', 2, []], ['#000000', 2, []], ['#404040', 1, []], ['#a0522d', 1, []], ['#ff9090', 1, []],
  ];
  const L = MAIN_LEVELS;
  const red = '#ff0000', grn = '#1a7a1a';
  return {
    h: 511, xAxisH: 17, leftW: true, bgFull: true,
    scales: {
      x: xScale(17),
      y: yScale(1287.5, 1870, SPX_TICKS, (v) => String(v), (c: any) => (c.tick && SPX_RED_TICKS.includes(c.tick.value) ? '#ff0000' : '#222')),
      yL: yScale(13.89, 30.47, TNX_TICKS, (v) => v.toFixed(1), (c: any) => (c.tick && TNX_RED_TICKS.includes(c.tick.value) ? '#ff0000' : '#222'), 'left', false),
      yU: { type: 'linear', display: false, min: 78.95, max: 84.56 },
    },
    datasets: [
      ...MAIN_TRENDS.map((s, i) => trend(s, tstyle[i][0], tstyle[i][1], tstyle[i][2])),
      lineDs(xy(SPX), '#000000', 1.3, {
        segment: { borderColor: (c: any) => (c.p1.parsed.y < c.p0.parsed.y ? '#e00000' : '#000000') },
      }),
      lineDs(zipXY(MA_IDX, MA20), '#2a2a80', 1),
      lineDs(xy(MA50), '#e02020', 1),
      lineDs(xy(MA200), '#1a5a1a', 1),
      lineDs(xy(TNX), '#ff40ff', 1.5, { yAxisID: 'yL', borderDash: [1.5, 2] }),
      lineDs(xy(USD), '#b07840', 1.5, { yAxisID: 'yU', borderDash: [1.5, 2] }),
      lineDs(zipXY(MA_IDX, BB_UP), 'rgba(205,160,110,0.5)', 1, { fill: '+1', backgroundColor: 'rgba(222,180,130,0.3)' }),
      lineDs(zipXY(MA_IDX, BB_LO), 'rgba(205,160,110,0.5)', 1),
    ],
    bands: [
      { v1: CYAN_BANDS[0][0], v2: CYAN_BANDS[0][1], c: '#00e8ee' },
      { v1: CYAN_BANDS[1][0], v2: CYAN_BANDS[1][1], c: '#00e8ee' },
      ...YELLOW_BANDS.map((b) => ({ v1: b[0], v2: b[1], from: b[2], c: '#ffff00' })),
    ],
    hlines: [
      { v: L[0], c: '#30b0b0', w: 1.5 },
      { v: L[1], c: red, w: 2, to: 344 }, { v: L[1], c: grn, w: 2, from: 344 },
      { v: L[2], c: red, w: 2.5, to: 324 }, { v: L[2], c: grn, w: 2, from: 324 },
      { v: L[3], c: red, w: 1.5, to: 207 }, { v: L[3], c: grn, w: 1.5, from: 207, to: 244 }, { v: L[3], c: '#2060c0', w: 1.5, from: 244 },
      { v: L[4], c: '#800000', w: 1.5 },
      { v: L[5], c: '#d00000', w: 1, to: 195 }, { v: L[5], c: '#1a6a1a', w: 1, from: 195 },
      { v: L[6], c: '#80e8f0', w: 1.5 },
      { v: L[7], c: '#a08070', w: 1.5 },
      { v: L[8], c: '#80e8f0', w: 1.5 },
      { v: L[9], c: red, w: 1.5, to: 126 }, { v: L[9], c: grn, w: 1.5, from: 126 },
      { v: L[10], c: '#a08070', w: 1.5 },
      { v: L[11], c: '#c0a080', w: 1.5 },
      { v: L[12], c: '#ff8020', w: 1.5 },
      { v: L[13], c: '#80e8f0', w: 1.5 },
      { v: L[14], c: grn, w: 1.5 },
    ],
    texts: [
      ...PRICE_LABELS.map((p) => ({ x: p[0], y: p[1], t: p[2], box: true, color: p[2] === '1448.00' ? '#ff0000' : '#000', font: `10px ${TICK_FONT}` })),
      ...FIB_RIGHT.map((f) => ({ x: 415.5, y: f[1], t: f[0], align: 'right', color: '#7a967a', font: `10px ${LAB_FONT}` })),
      ...FIB_LEFT.map((f) => ({ x: 372, y: f[1], t: f[0], align: 'left', color: '#7a967a', font: `10px ${LAB_FONT}` })),
      { x: 198, y: 1669, t: 'E', color: '#000', font: `bold 22px ${LAB_FONT}` },
      { x: 94.6, y: 1309, t: 'D', color: '#000', font: `bold 22px ${LAB_FONT}` },
    ],
    arrows: [
      { x: 392.8, y: 1837, dir: 'left', c: '#ff00ff' },
      ...GREEN_UP.map((g, i) => ({ x: g[0], y: g[1], dir: 'up', c: '#0a7a0a', top: i === 5 ? '#3080ff' : undefined })),
      { x: 383.8, y: 1484, dir: 'left', c: '#5f8a5f' },
    ],
    tags: [
      { v: 1860.73, t: '1860.73', border: '#d2a050' },
      { v: 29.48, t: '29.48', border: '#ff00ff', axis: 'yL' },
      { v: 1813.98, t: '1813.98', border: '#202080' },
      { v: 1826.77, t: '1826.77', border: '#000', bold: true },
      { v: 1793.8, t: '1793.80', border: '#ff0000' },
      { v: 1767.23, t: '1767.23', border: '#d2a050' },
      { v: 1683.47, t: '1683.47', border: '#1a6a1a' },
      { v: 80.78, t: '80.78', border: '#a0522d', bold: true, axis: 'yU' },
    ],
    legend: [
      { icon: 'candle', parts: [['$SPX (Daily) 1826.77', '#000']] },
      { icon: 'line', c: '#202080', parts: [['MA(20) 1813.98', '#202080']] },
      { icon: 'line', c: '#ff0000', parts: [['MA(50) 1793.80', '#ff0000']] },
      { icon: 'line', c: '#1a5a1a', parts: [['MA(200) 1683.47', '#1a5a1a']] },
      { icon: 'band', c: '#e8cfa8', parts: [['BB(20,2.0) 1767.23 - 1813.98 - 1860.73', '#d4a050']] },
      { icon: 'dots', c: '#ff00ff', parts: [['$TNX 29.48', '#ff00ff']] },
      { icon: 'dots', c: '#a0522d', parts: [['$USD 80.78', '#a0522d']] },
    ],
  };
}

function specRSI() {
  const ws = [3.5, 2.5, 2, 2.5];
  const Lv = RSI_LEVELS;
  return {
    h: 149, xAxisH: 0,
    scales: { x: xScale(0), y: yScale(-4.1, 104.6, RSI_TICKS, (v) => String(v)) },
    datasets: [
      ...RSI_TRENDS.map((s, i) => trend(s, '#ff0000', ws[i])),
      lineDs(xy(RSI), '#000000', 1.2),
      lineDs(xy(RSI_MA), '#2040a0', 1),
    ],
    hlines: [
      { v: Lv[0], c: '#ff0000', w: 2 }, { v: Lv[1], c: '#303030', w: 1 },
      { v: Lv[2], c: '#707070', w: 1, dash: [8, 3, 2, 3] }, { v: Lv[3], c: '#1a7a1a', w: 1.5 },
      { v: Lv[4], c: '#303030', w: 1 }, { v: Lv[5], c: '#a09080', w: 1.5 },
    ],
    texts: [{ x: 415.5, y: 3.7, t: '100.0%: 1101.04', align: 'right', color: '#7a967a', font: `10px ${LAB_FONT}` }],
    arrows: [
      { x: 411.3, y: 60.7, dir: 'down', c: '#ff0000' },
      { x: 348.7, y: 33, dir: 'up', c: '#0a7a0a' },
      { x: 266, y: 33, dir: 'up', c: '#6a9a6a' },
    ],
    tags: [{ v: 59.89, t: '59.89', border: '#2040a0' }, { v: 57.81, t: '57.81', border: '#000' }],
    legend: [
      { icon: 'tri', parts: [['RSI(14) 57.81', '#000']] },
      { icon: 'line', c: '#2040a0', parts: [['MA(25) 59.89', '#2040a0']] },
    ],
  };
}

function specMACD() {
  const ws = [2, 3.5, 1.5, 3, 1.5, 2.5, 2, 1.5, 1.5];
  return {
    h: 151, xAxisH: 0,
    scales: { x: xScale(0), y: yScale(-22.3, 28, MACD_TICKS, (v) => String(v)) },
    datasets: [
      ...MACD_TRENDS.map((s, i) => trend(s, '#ff0000', ws[i], i === 2 ? [5, 3] : [])),
      trend(MACD_BLUE_TREND, '#203080', 2),
      trend(MACD_PINK_TREND, '#ff00ff', 1.5),
      lineDs(xy(MACD), '#000000', 1.5),
      lineDs(xy(MACD_SIG), '#c0703a', 1),
      lineDs(xy(HIST_A), '#3a3a3a', 0.6, { fill: { target: 'origin', above: '#2f7a4a', below: '#e08a40' } }),
      lineDs(xy(HIST_B), '#4040a0', 0.6, { fill: { target: 'origin', above: '#3a5fe0', below: '#b080f0' } }),
      lineDs(xy(HIST_C), '#204020', 0.6, { fill: { target: 'origin', above: '#3a6a3a', below: '#e08a40' } }),
    ],
    bands: [{ v1: MACD_BOX[2], v2: MACD_BOX[3], from: MACD_BOX[0], to: MACD_BOX[1], c: '#ffff00' }],
    hlines: [
      { v: MACD_LEVELS[0], c: '#000000', w: 1.2, dash: [4, 3] },
      { v: MACD_LEVELS[1], c: '#40e0f0', w: 1.5 },
    ],
    texts: [{ x: 370, y: 7.3, t: '0.0%: 1014.56', align: 'left', color: '#7a967a', font: `10px ${LAB_FONT}` }],
    arrows: [{ x: 411.3, y: 15, dir: 'down', c: '#ff0000' }],
    tags: [
      { v: 13.708, t: '13.708', border: '#c0703a' },
      { v: 13.982, t: '13.982', border: '#000' },
      { v: 0.274, t: '0.274', border: '#000' },
    ],
    legend: [{ icon: 'line', c: '#000', parts: [['MACD(12,26,9) 13.982,', '#000'], [' 13.708', '#b03020'], [', 0.274', '#208020']] }],
  };
}

function specSTO() {
  const ws = [3, 1.5, 2, 2, 2.5];
  const Lv = STO_LEVELS;
  return {
    h: 163, xAxisH: 15,
    scales: { x: xScale(15), y: yScale(-3.2, 101.8, STO_TICKS, (v) => String(v)) },
    datasets: [
      ...STO_TRENDS.map((s, i) => trend(s, '#ff0000', ws[i])),
      trend(STO_BLUE_TREND, '#203080', 2),
      lineDs(xy(STO_K), '#000000', 1.5),
      lineDs(xy(STO_D), '#d07020', 1),
    ],
    hlines: [
      { v: Lv[0], c: '#ff0000', w: 1.5 }, { v: Lv[1], c: '#303030', w: 1 },
      { v: Lv[2], c: '#505050', w: 1, dash: [8, 3, 2, 3] }, { v: Lv[3], c: '#60a060', w: 1 },
      { v: Lv[4], c: '#303030', w: 1 }, { v: Lv[5], c: '#1a7a1a', w: 2 },
    ],
    arrows: [{ x: 411.3, y: 78.4, dir: 'down', c: '#ff0000' }],
    tags: [{ v: 83.99, t: '83.99', border: '#c0703a' }, { v: 76.18, t: '76.18', border: '#000' }],
    legend: [{ icon: 'line', c: '#000', parts: [['Slow STO %K(14) %D(3) 76.18,', '#000'], [' 83.99', '#b03020']] }],
  };
}

const PANELS = [
  { top: 27, h: 150, make: specA50 },
  { top: 177, h: 149, make: specTRIX },
  { top: 326, h: 150, make: specNYMO },
  { top: 476, h: 150, make: specBP },
  { top: 626, h: 511, make: specMain },
  { top: 1137, h: 149, make: specRSI },
  { top: 1286, h: 151, make: specMACD },
  { top: 1437, h: 163, make: specSTO },
];

function Panel({ top, h, make }: { top: number; h: number; make: () => any }) {
  const ref = useRef<HTMLCanvasElement | null>(null);
  useEffect(() => {
    const canvas = ref.current;
    if (!canvas) return;
    const spec = make();
    const chart = new Chart(canvas, {
      type: 'line',
      data: { datasets: spec.datasets },
      options: {
        responsive: false,
        animation: false,
        events: [],
        layout: { padding: { left: spec.leftW ? 0 : LEFT, right: 0, top: 0, bottom: 0 } },
        plugins: { legend: { display: false }, tooltip: { enabled: false } },
        elements: { point: { radius: 0 }, line: { tension: 0 } },
        scales: spec.scales,
      },
      plugins: [makePlugin(spec)],
    } as any);
    return () => chart.destroy();
  }, []);
  return <canvas ref={ref} width={W} height={h} style={{ position: 'absolute', left: 0, top, width: W, height: h, display: 'block' }} />;
}

export default function App() {
  const hs: React.CSSProperties = { position: 'absolute', whiteSpace: 'nowrap', fontFamily: LAB_FONT, color: '#000', lineHeight: '12px' };
  return (
    <div style={{ position: 'absolute', left: 0, top: 0, width: W, height: 1600, background: '#ffffff', overflow: 'hidden' }}>
      <div style={{ ...hs, left: 38, top: 3, fontSize: 12 }}>
        <span style={{ fontWeight: 'bold', fontSize: 15, letterSpacing: -0.3 }}>$SPX</span>
        <span style={{ marginLeft: 4, color: '#333' }}>S&amp;P 500 Large Cap Index</span>
        <span style={{ marginLeft: 6, fontSize: 10, color: '#333' }}>INDX</span>
      </div>
      <div style={{ ...hs, left: 38, top: 16, fontSize: 11, color: '#222' }}>6-Jan-2014</div>
      <div style={{ ...hs, right: W - 1131, top: 3, fontSize: 11, color: '#555' }}>©StockCharts.com</div>
      <div style={{ ...hs, right: W - 1131, top: 16, fontSize: 11 }}>
        <b>Open</b> 1832.31 <b>High</b> 1837.16 <b>Low</b> 1823.73 <b>Close</b> 1826.77 <b>Volume</b> 2.1B <b>Chg</b> -4.60 (-0.25%) <span style={{ color: '#2040ff', fontSize: 9 }}>▼</span>
      </div>
      {PANELS.map((p, i) => (
        <Panel key={i} top={p.top} h={p.h} make={p.make} />
      ))}
    </div>
  );
}
